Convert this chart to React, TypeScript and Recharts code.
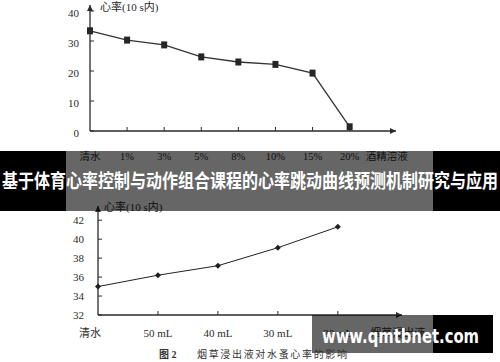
import { LineChart, Line, XAxis, YAxis, ReferenceDot } from "recharts";

// 图1: 酒精溶液浓度与心率
const alcoholCategories = ["清水", "1%", "3%", "5%", "8%", "10%", "15%", "20%", "酒精溶液"];
const alcoholRates = [33.4, 30.3, 28.7, 24.7, 23.0, 22.2, 19.3, 1.4];
const alcoholYTicks = [0, 10, 20, 30, 40];

// 图2: 烟草浸出液与心率
const tobaccoCategories = ["清水", "50 mL", "40 mL", "30 mL", "20 mL", "烟草浸出液"];
const tobaccoRates = [35.0, 36.2, 37.2, 39.1, 41.3];
const tobaccoYTicks = [32, 34, 36, 38, 40, 42];

const title = "基于体育心率控制与动作组合课程的心率跳动曲线预测机制研究与应用";
const watermark = "www.qmtbnet.com";
const caption = "烟草浸出液对水蚤心率的影响";

const serif = "'Liberation Serif', 'Times New Roman', 'Noto Sans CJK SC', serif";
const ink = "#2b2b2b";

const alcoholData = alcoholRates.map((v, i) => ({ x: i, rate: v }));
const tobaccoData = tobaccoRates.map((v, i) => ({ x: i, rate: v }));

function makeXTick(labels: string[], labelDy: number, fontSize: number, firstDx: number) {
  return (props: any) => {
    const { x, y, payload } = props;
    const i = payload.value;
    const isLast = i === labels.length - 1;
    return (
      <g>
        {i > 0 && !isLast && <line x1={x} x2={x} y1={y} y2={y - 4} stroke={ink} strokeWidth={1} />}
        <text x={x + (i === 0 ? firstDx : 0)} y={y + labelDy} textAnchor="middle" fontSize={fontSize} fill={ink} fontFamily={serif}>
          {labels[i]}
        </text>
      </g>
    );
  };
}

function makeYTick(gap: number, fontSize: number, dy: number) {
  return (props: any) => {
    const { x, y, payload } = props;
    return (
      <g>
        <line x1={x} x2={x + 4} y1={y} y2={y} stroke={ink} strokeWidth={1} />
        <text x={x - gap} y={y + dy} textAnchor="end" fontSize={fontSize} fill={ink} fontFamily={serif}>
          {payload.value}
        </text>
      </g>
    );
  };
}

const arrowRight = (p: any) => (
  <path d={`M${p.cx},${p.cy} L${p.cx - 6},${p.cy - 3} L${p.cx - 6},${p.cy + 3} Z`} fill={ink} />
);
const arrowUp = (p: any) => (
  <path d={`M${p.cx},${p.cy} L${p.cx - 3},${p.cy + 6} L${p.cx + 3},${p.cy + 6} Z`} fill={ink} />
);

const squareDot = (p: any) => (
  <rect key={p.index} x={p.cx - 3} y={p.cy - 3.5} width={6} height={7} fill="#262626" />
);
const diamondDot = (p: any) => (
  <path key={p.index} d={`M${p.cx},${p.cy - 3} L${p.cx + 3},${p.cy} L${p.cx},${p.cy + 3} L${p.cx - 3},${p.cy} Z`} fill="#1e1e1e" />
);

export default function App() {
  return (
    <div style={{ position: "absolute", left: 0, top: 0, width: 500, height: 362, background: "#fff", overflow: "hidden" }}>
      <div style={{ position: "absolute", left: 0, top: 0 }}>
        <LineChart width={500} height={170} data={alcoholData} margin={{ top: 5, right: 104, bottom: 0, left: 0 }}>
          <XAxis
            dataKey="x"
            type="number"
            domain={[0, 8.25]}
            ticks={[0, 1, 2, 3, 4, 5, 6, 7, 8]}
            height={39}
            tickSize={0}
            tickMargin={0}
            tickLine={false}
            axisLine={{ stroke: ink, strokeWidth: 1.3 }}
            tick={makeXTick(alcoholCategories, 29, 10.5, 0)}
            interval={0}
          />
          <YAxis
            type="number"
            domain={[0, 42]}
            ticks={alcoholYTicks}
            width={90}
            tickSize={0}
            tickMargin={0}
            tickLine={false}
            axisLine={{ stroke: ink, strokeWidth: 1.3 }}
            tick={makeYTick(11, 11, 6)}
            interval={0}
          />
          <ReferenceDot x={8.25} y={0} r={3} ifOverflow="visible" shape={arrowRight} />
          <ReferenceDot x={0} y={42} r={3} ifOverflow="visible" shape={arrowUp} />
          <Line dataKey="rate" stroke="#333" strokeWidth={1.3} dot={squareDot} isAnimationActive={false} />
        </LineChart>
      </div>

      <div style={{ position: "absolute", left: 0, top: 190 }}>
        <LineChart width={500} height={170} data={tobaccoData} margin={{ top: 16, right: 98, bottom: 0, left: 0 }}>
          <XAxis
            dataKey="x"
            type="number"
            domain={[0, 5.07]}
            ticks={[0, 1, 2, 3, 4, 5]}
            height={45}
            tickSize={0}
            tickMargin={0}
            tickLine={false}
            axisLine={{ stroke: ink, strokeWidth: 1.3 }}
            tick={makeXTick(tobaccoCategories, 22, 11, -8)}
            interval={0}
          />
          <YAxis
            type="number"
            domain={[32, 43.5]}
            ticks={tobaccoYTicks}
            width={98}
            tickSize={0}
            tickMargin={0}
            tickLine={false}
            axisLine={{ stroke: ink, strokeWidth: 1.3 }}
            tick={makeYTick(14, 11, 4)}
            interval={0}
          />
          <ReferenceDot x={5.07} y={32} r={3} ifOverflow="visible" shape={arrowRight} />
          <ReferenceDot x={0} y={43.5} r={3} ifOverflow="visible" shape={arrowUp} />
          <Line dataKey="rate" stroke="#222" strokeWidth={1} dot={diamondDot} isAnimationActive={false} />
        </LineChart>
      </div>

      <svg width={500} height={362} style={{ position: "absolute", left: 0, top: 0, pointerEvents: "none" }}>
        <text x={100} y={11} fontSize={11} fill={ink} fontFamily={serif}>心率(10 s内)</text>
        <text x={104} y={211} fontSize={11} fill={ink} fontFamily={serif}>心率(10 s内)</text>

        <rect x={0} y={151} width={66} height={60} fill="#000" />
        <rect x={66} y={151} width={367} height={60} fill="rgba(0,0,0,0.6)" />
        <rect x={433} y={151} width={67} height={60} fill="#000" />
        <text x={2} y={188} fontSize={19} fontWeight="bold" fill="#fff" fontFamily="'Noto Sans CJK SC', sans-serif" textLength={496} lengthAdjust="spacingAndGlyphs">
          {title}
        </text>

        <rect x={312} y={315} width={121} height={38} fill="rgba(0,0,0,0.6)" />
        <rect x={433} y={315} width={60} height={38} fill="#000" />
        <text x={322} y={343} fontSize={19} fontWeight="bold" fill="#fff" fontFamily="'DejaVu Sans', sans-serif" textLength={157} lengthAdjust="spacingAndGlyphs">
          {watermark}
        </text>

        <text x={159} y={358} fontSize={10} fontWeight="bold" fill="#333" fontFamily={serif}>图 2</text>
        <text x={197} y={358} fontSize={10} fill="#333" fontFamily={serif} textLength={150} lengthAdjust="spacing">
          {caption}
        </text>
      </svg>
    </div>
  );
}
